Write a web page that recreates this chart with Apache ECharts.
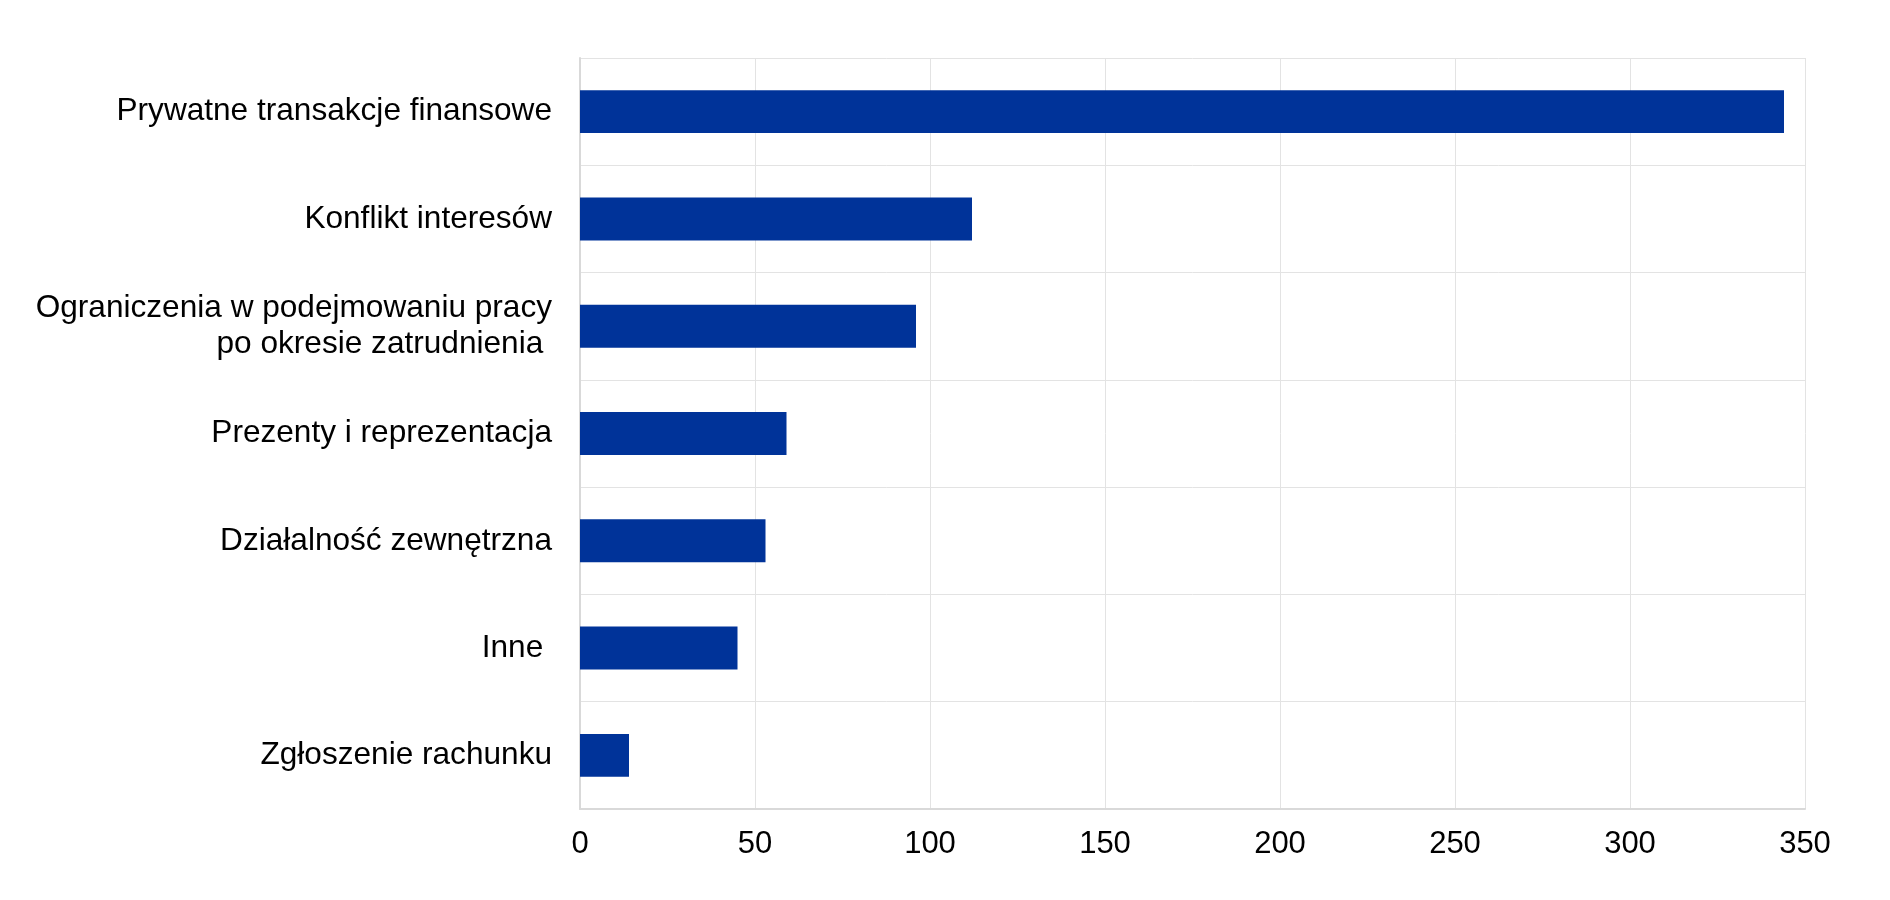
<!DOCTYPE html>
<html>
<head>
<meta charset="utf-8">
<script src="https://cdn.jsdelivr.net/npm/echarts@6/dist/echarts.min.js"></script>
<style>html,body{margin:0;padding:0;background:#fff}#c{width:1890px;height:900px}</style>
</head>
<body>
<div id="c"></div>
<script>
const categories = [
  "Prywatne transakcje finansowe",
  "Konflikt interesów",
  "Ograniczenia w podejmowaniu pracy\npo okresie zatrudnienia ",
  "Prezenty i reprezentacja",
  "Działalność zewnętrzna",
  "Inne ",
  "Zgłoszenie rachunku"
];
const values = [344, 112, 96, 59, 53, 45, 14];
const xTicks = { min: 0, max: 350, interval: 50 };

const chart = echarts.init(document.getElementById('c'), null, { renderer: 'canvas' });
chart.setOption({
  animation: false,
  backgroundColor: '#ffffff',
  grid: { left: 580, right: 85, top: 58, bottom: 91, containLabel: false },
  xAxis: {
    type: 'value',
    min: xTicks.min, max: xTicks.max, interval: xTicks.interval,
    axisLine: { show: true, lineStyle: { color: '#d9d9d9', width: 2 } },
    axisTick: { show: false },
    axisLabel: { color: '#000', fontFamily: 'Liberation Sans', fontSize: 31, margin: 20 },
    splitLine: { show: true, lineStyle: { color: '#e3e3e3', width: 1 } }
  },
  yAxis: {
    type: 'category',
    data: categories,
    inverse: true,
    axisLine: { show: true, lineStyle: { color: '#d9d9d9', width: 2 } },
    axisTick: { show: false },
    axisLabel: { color: '#000', fontFamily: 'Liberation Sans', fontSize: 31.6, margin: 28, lineHeight: 36, align: 'right' },
    splitLine: { show: true, lineStyle: { color: '#e3e3e3', width: 1 } }
  },
  series: [{
    type: 'bar',
    data: values,
    barWidth: '40%',
    itemStyle: { color: '#003399' }
  }]
});
</script>
</body>
</html>
